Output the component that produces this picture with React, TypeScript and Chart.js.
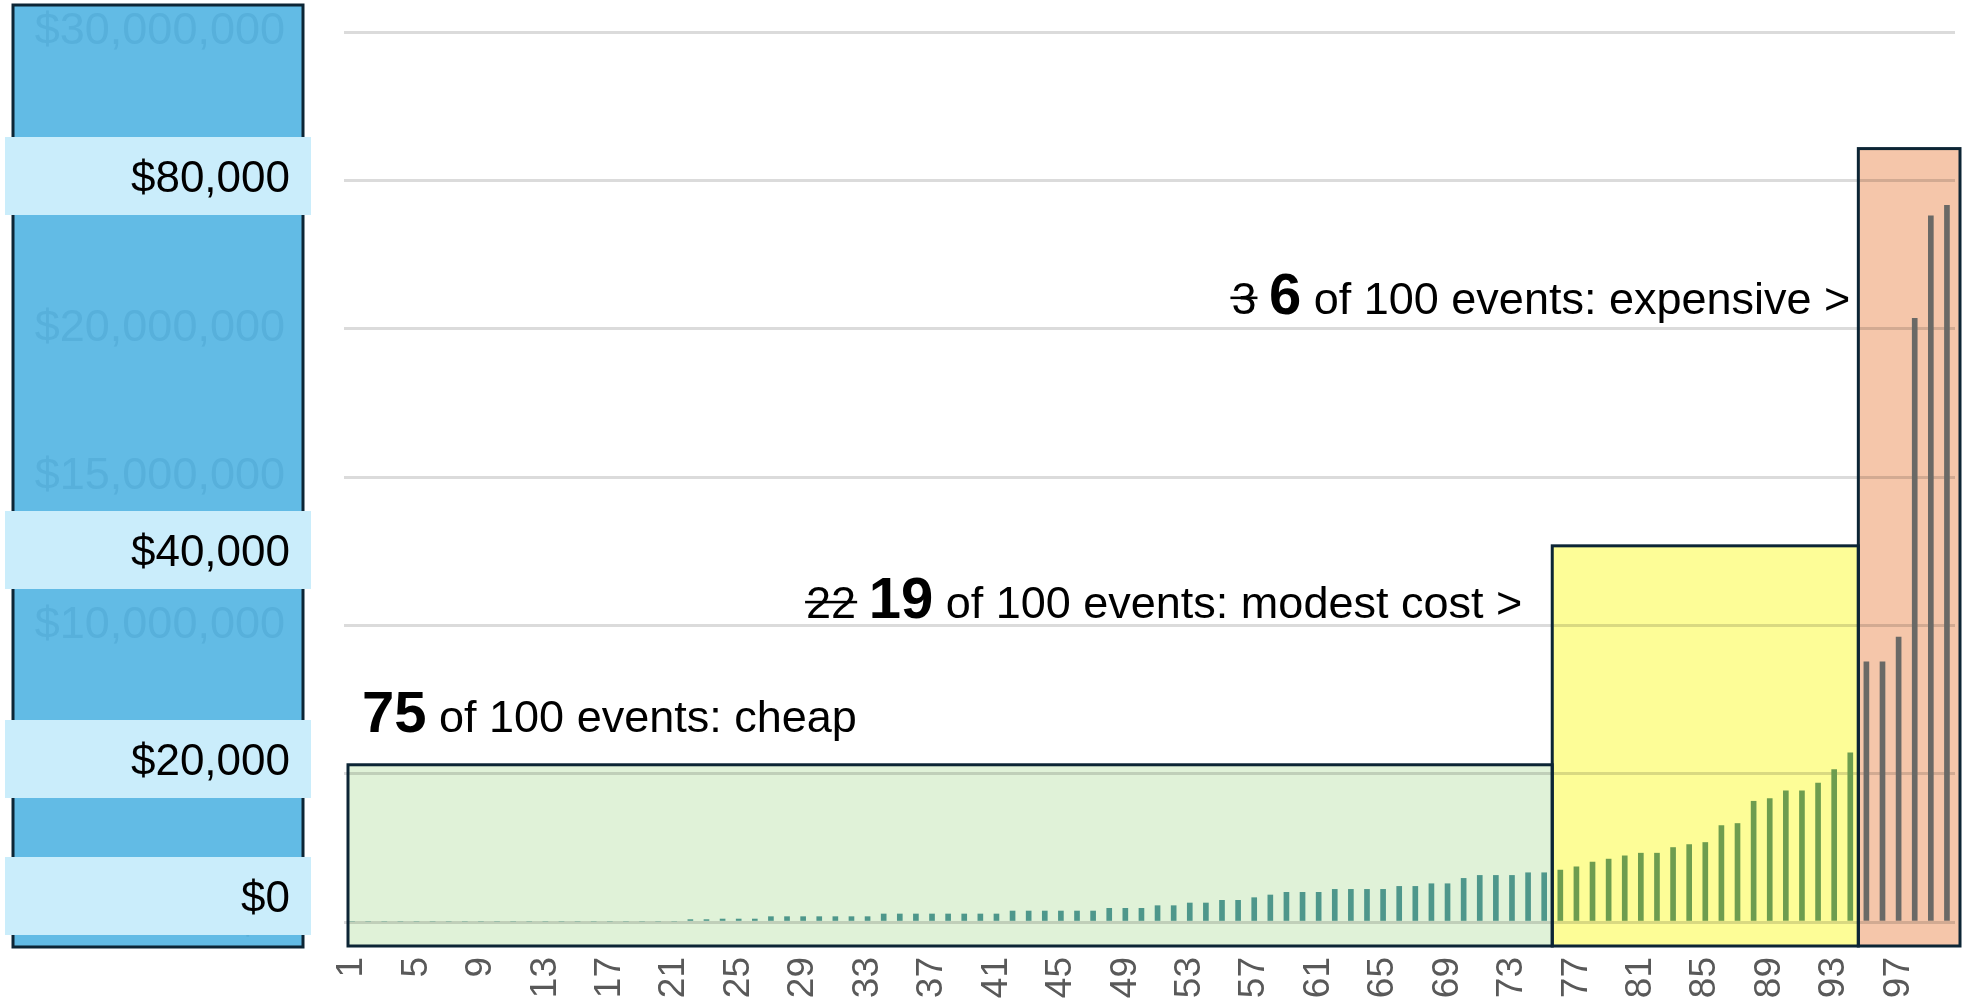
import React, { useEffect, useRef } from 'react';
import { Chart, registerables } from 'chart.js';

Chart.register(...registerables);

// ---------- data ----------
const categories = [
  '1','2','3','4','5','6','7','8','9','10','11','12','13','14','15','16','17','18','19','20',
  '21','22','23','24','25','26','27','28','29','30','31','32','33','34','35','36','37','38','39','40',
  '41','42','43','44','45','46','47','48','49','50','51','52','53','54','55','56','57','58','59','60',
  '61','62','63','64','65','66','67','68','69','70','71','72','73','74','75','76','77','78','79','80',
  '81','82','83','84','85','86','87','88','89','90','91','92','93','94','95','96','97','98','99','100',
];

const eventCosts = [
  0, 0, 0, 0, 0, 0, 0, 0, 0, 0, 0, 0, 0, 0, 0, 0, 0, 0, 0, 0,
  0, 80000, 80000, 100000, 100000, 100000, 180000, 180000, 180000, 180000,
  180000, 180000, 180000, 270000, 270000, 270000, 270000, 270000, 270000, 270000,
  270000, 370000, 370000, 370000, 370000, 370000, 370000, 460000, 460000, 460000,
  550000, 550000, 640000, 640000, 730000, 730000, 820000, 910000, 1000000, 1000000,
  1000000, 1100000, 1100000, 1100000, 1100000, 1200000, 1200000, 1290000, 1290000, 1470000,
  1570000, 1570000, 1570000, 1660000, 1660000, 1750000, 1860000, 2020000, 2120000, 2230000,
  2320000, 2320000, 2510000, 2610000, 2680000, 3250000, 3320000, 4070000, 4160000, 4420000,
  4420000, 4680000, 5140000, 5700000, 8770000, 8770000, 9600000, 20350000, 23800000, 24160000,
];

const xTickEvery = 4;
const yMax = 30000000;
const yStep = 5000000;

// cost bands (first / last event number, height of the band box in $ on the axis)
const bandFirst = [1, 76, 95];
const bandLast = [75, 94, 100];
const bandTop = [5300000, 12680000, 26070000];

// annotation texts
const bandOldCount = ['', '22', '3'];
const bandCount = ['75', '19', '6'];
const bandText = ['of 100 events: cheap', 'of 100 events: modest cost >', 'of 100 events: expensive >'];

// threshold labels on the left panel
const thresholdLabels = ['$80,000', '$40,000', '$20,000', '$0'];

// ---------- styles ----------
const FONT = '"Liberation Sans", Arial, sans-serif';
const bandFill = ['#e0f2d8', '#fdfd97', '#f5c6aa'];
const bandBar = ['#4e978b', '#6d9d4f', '#6a6966'];
const borderDark = '#0c2535';
const panelFill = '#62bbe5';
const labelBoxFill = '#caedfb';
const thresholdCenters = [176, 550, 759, 896];

function bandIndexOf(i: number) {
  const n = i + 1;
  for (let b = 0; b < bandFirst.length; b++) {
    if (n >= bandFirst[b] && n <= bandLast[b]) return b;
  }
  return 0;
}

function bandRect(chart: any, b: number) {
  const x = chart.scales.x;
  const y = chart.scales.y;
  const step = x.getPixelForValue(1) - x.getPixelForValue(0);
  let left = x.getPixelForValue(bandFirst[b] - 1) - step / 2;
  let right = x.getPixelForValue(bandLast[b] - 1) + step / 2;
  if (b === 0) left += 4;
  if (b === bandFirst.length - 1) right += 5;
  const top = y.getPixelForValue(bandTop[b]);
  const bottom = y.getPixelForValue(0) + 24;
  return { left, right, top, bottom };
}

function drawComposite(ctx: CanvasRenderingContext2D, parts: any[], anchorX: number, baseline: number, align: 'left' | 'right') {
  const widths = parts.map((p) => {
    ctx.font = p.font;
    return ctx.measureText(p.text).width;
  });
  const total = widths.reduce((a, b) => a + b, 0);
  let cx = align === 'left' ? anchorX : anchorX - total;
  ctx.textAlign = 'left';
  ctx.textBaseline = 'alphabetic';
  ctx.fillStyle = '#000';
  parts.forEach((p, i) => {
    ctx.font = p.font;
    ctx.fillText(p.text, cx, baseline);
    if (p.strike) {
      ctx.fillRect(cx - 1, baseline - 17, widths[i] + 2, 2.5);
    }
    cx += widths[i];
  });
}

const overlayPlugin = {
  id: 'costOverlay',
  beforeDraw(chart: any) {
    const ctx = chart.ctx as CanvasRenderingContext2D;
    ctx.save();
    // left panel
    ctx.fillStyle = panelFill;
    ctx.fillRect(13, 5, 290, 942);
    ctx.strokeStyle = borderDark;
    ctx.lineWidth = 3;
    ctx.strokeRect(13, 5, 290, 942);
    // band fills
    for (let b = 0; b < bandFirst.length; b++) {
      const r = bandRect(chart, b);
      ctx.fillStyle = bandFill[b];
      ctx.fillRect(r.left, r.top, r.right - r.left, r.bottom - r.top);
    }
    ctx.restore();
  },
  afterDatasetsDraw(chart: any) {
    const ctx = chart.ctx as CanvasRenderingContext2D;
    ctx.save();
    ctx.strokeStyle = borderDark;
    ctx.lineWidth = 3;
    const rects = bandFirst.map((_, b) => bandRect(chart, b));
    rects.forEach((r) => ctx.strokeRect(r.left, r.top, r.right - r.left, r.bottom - r.top));

    const reg = `45px ${FONT}`;
    const bold = `bold 58px ${FONT}`;
    const anchors = [
      { x: rects[0].left + 14, y: rects[0].top - 33, align: 'left' as const },
      { x: rects[1].left - 30, y: rects[1].top + 72, align: 'right' as const },
      { x: rects[2].left - 8, y: rects[2].top + 165, align: 'right' as const },
    ];
    for (let b = 0; b < bandCount.length; b++) {
      const parts: any[] = [];
      if (bandOldCount[b]) {
        parts.push({ text: bandOldCount[b], font: reg, strike: true });
        parts.push({ text: ' ', font: reg });
      }
      parts.push({ text: bandCount[b], font: bold });
      parts.push({ text: ' ' + bandText[b], font: reg });
      drawComposite(ctx, parts, anchors[b].x, anchors[b].y, anchors[b].align);
    }
    ctx.restore();
  },
  afterDraw(chart: any) {
    const ctx = chart.ctx as CanvasRenderingContext2D;
    ctx.save();
    thresholdLabels.forEach((t, i) => {
      const c = thresholdCenters[i];
      ctx.fillStyle = labelBoxFill;
      ctx.fillRect(5, c - 39, 306, 78);
      ctx.fillStyle = '#000';
      ctx.font = `44px ${FONT}`;
      ctx.textAlign = 'right';
      ctx.textBaseline = 'alphabetic';
      ctx.fillText(t, 290, c + 16);
    });
    ctx.restore();
  },
};

export default function App() {
  const canvasRef = useRef<HTMLCanvasElement | null>(null);

  useEffect(() => {
    const canvas = canvasRef.current;
    if (!canvas) return;
    const chart = new Chart(canvas, {
      type: 'bar',
      data: {
        labels: categories,
        datasets: [
          {
            data: eventCosts,
            backgroundColor: eventCosts.map((_, i) => bandBar[bandIndexOf(i)]),
            borderWidth: 0,
            barThickness: 5,
          },
        ],
      },
      options: {
        animation: false,
        responsive: false,
        devicePixelRatio: 1,
        layout: { padding: { left: 0, right: 7, top: 32, bottom: 6 } },
        plugins: {
          legend: { display: false },
          tooltip: { enabled: false },
        },
        scales: {
          x: {
            grid: { display: false },
            border: { display: false },
            ticks: {
              autoSkip: false,
              minRotation: 90,
              maxRotation: 90,
              padding: 27,
              color: '#595959',
              font: { family: FONT, size: 37 },
              callback: (_v: any, i: number) => (i % xTickEvery === 0 ? categories[i] : ''),
            },
            afterFit: (s: any) => {
              s.height = 80;
              s.paddingLeft = 0;
              s.paddingRight = 0;
            },
          },
          y: {
            min: 0,
            max: yMax,
            grid: { color: 'rgba(0,0,0,0.14)', lineWidth: 3, drawTicks: false },
            border: { display: false },
            ticks: {
              stepSize: yStep,
              padding: 59,
              color: 'rgba(30,120,170,0.16)',
              font: { family: FONT, size: 45 },
              callback: (v: any) => '$' + Number(v).toLocaleString('en-US'),
            },
            afterFit: (s: any) => {
              s.width = 344;
              s.paddingTop = 0;
              s.paddingBottom = 0;
            },
          },
        },
      },
      plugins: [overlayPlugin],
    });
    return () => chart.destroy();
  }, []);

  return (
    <div style={{ position: 'fixed', left: 0, top: 0, width: 1962, height: 1008, background: '#fff' }}>
      <canvas ref={canvasRef} width={1962} height={1008} style={{ display: 'block' }} />
    </div>
  );
}
